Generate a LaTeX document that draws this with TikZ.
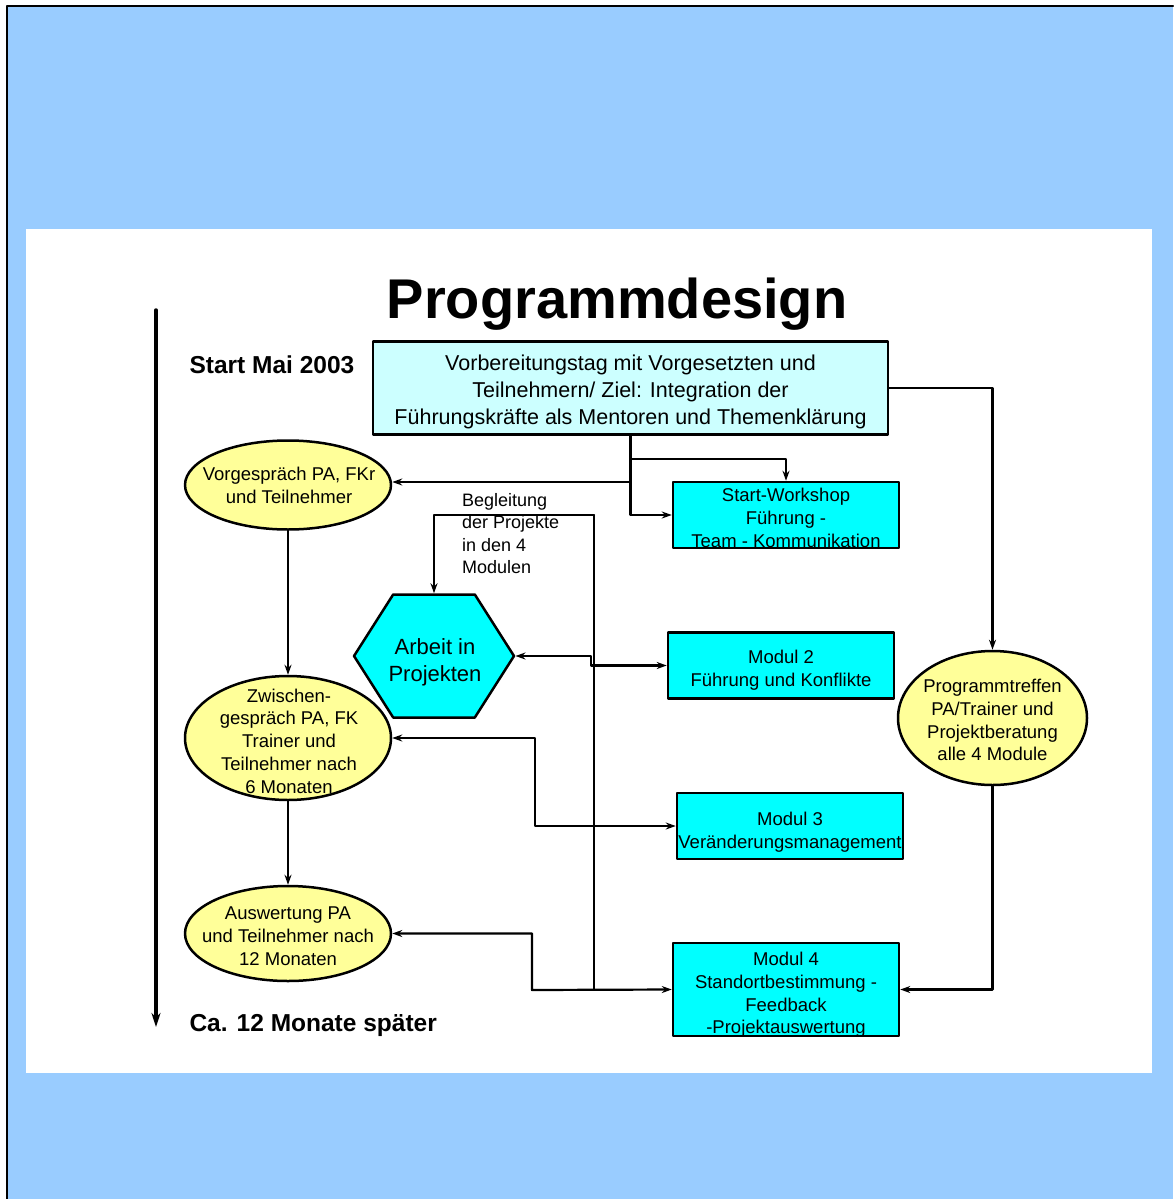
\documentclass[tikz,border=0pt]{standalone}
\usepackage{fontspec}
\setmainfont{Liberation Sans}
\usetikzlibrary{shapes.geometric,shapes.symbols,arrows.meta}
\definecolor{hgblau}{HTML}{99CCFF}
\definecolor{hellcyan}{HTML}{CCFFFF}
\definecolor{modulcyan}{HTML}{00FFFF}
\definecolor{hellgelb}{HTML}{FFFF99}
\tikzset{
  modul/.style={draw,line width=2.5,fill=modulcyan,inner sep=0,
    minimum width=226,minimum height=66},
  gespraech/.style={draw,ellipse,line width=2.5,fill=hellgelb,inner sep=0},
  gtext/.style={align=center,inner sep=0,font=\fontsize{18.5}{22.8}\selectfont},
  pfeil/.style={line width=2.2},
}
\begin{document}
\begin{tikzpicture}[x=1pt,y=-1pt,line cap=round,line join=round,>={Stealth[length=10pt,width=7pt]}]
\useasboundingbox (0,0) rectangle (1173,1199);
% Hintergrund
\fill[hgblau] (7,6) rectangle (1173,1199);
\draw[line width=2.5] (7,1199)--(7,6)--(1173,6);
\fill[white] (26,229) rectangle (1152,1073);

\node[font=\fontsize{56}{60}\selectfont\bfseries] (titel) at (617,304) {Programmdesign};

% Zeitachse
\coordinate (t0) at (156,310);
\coordinate (t1) at (156,1027);
\draw[-{Stealth[length=14pt,width=9pt]},line width=3.5] (t0)--(t1);
\node[anchor=west,font=\fontsize{24.5}{28}\selectfont\bfseries] (start) at (186,365) {Start Mai 2003};
\node[anchor=west,font=\fontsize{24.5}{28}\selectfont\bfseries] (ende) at (186,1025) {Ca. 12 Monate später};

% Kaesten
\node[draw,line width=2.5,fill=hellcyan,minimum width=515,minimum height=93,inner sep=0] (vb) at (630.5,388) {};
\node[align=center,inner sep=0,font=\fontsize{21.5}{27}\selectfont] at (630.5,392)
  {Vorbereitungstag mit Vorgesetzten und\\Teilnehmern/ Ziel: Integration der\\Führungskräfte als Mentoren und Themenklärung};
\node[modul] (sw) at (786,515) {};
\node[gtext] at (786,518) {Start-Workshop\\Führung -\\Team - Kommunikation};
\node[modul] (m2) at (781,665.5) {};
\node[gtext] at (781,670) {Modul 2\\Führung und Konflikte};
\node[modul] (m3) at (790,826) {};
\node[gtext] at (790,832) {Modul 3\\Veränderungsmanagement};
\node[modul,minimum height=93] (m4) at (786,989.5) {};
\node[gtext] at (786,995) {Modul 4\\Standortbestimmung -\\Feedback\\-Projektauswertung};

\node[draw,line width=2.5,fill=modulcyan,shape=signal,signal to=west and east,
  signal pointer angle=115,minimum width=160,minimum height=123,inner sep=0] (proj) at (434,656) {};
\node[align=center,inner sep=0,font=\fontsize{22}{27}\selectfont] at (435,662) {Arbeit in\\Projekten};

% Gespraeche
\node[gespraech,minimum width=206,minimum height=89] (vorg) at (288,485) {};
\node[gtext] at (289,485) {Vorgespräch PA, FKr\\und Teilnehmer};
\node[gespraech,minimum width=206,minimum height=124] (zw) at (288,738) {};
\node[gtext] at (289,741) {Zwischen-\\gespräch PA, FK\\Trainer und\\Teilnehmer nach\\6 Monaten};
\node[gespraech,minimum width=206,minimum height=95] (aus) at (288,933.5) {};
\node[gtext] at (288,936) {Auswertung PA\\und Teilnehmer nach\\12 Monaten};
\node[gespraech,minimum width=189,minimum height=134] (pt) at (992.5,718) {};
\node[gtext] at (992.5,720) {Programmtreffen\\PA/Trainer und\\Projektberatung\\alle 4 Module};

\node[anchor=north west,align=left,inner sep=0,font=\fontsize{18}{22.5}\selectfont] (begl) at (462,493)
  {Begleitung\\der Projekte\\in den 4\\Modulen};

% Verbindungen
\coordinate (bg) at (594,515);
\coordinate (j2) at (591,660);
\coordinate (j3) at (535,826);
\coordinate (j4) at (532,990);
\draw[pfeil,->] (vb.south) |- (sw.west);
\draw[pfeil,->] (vb.south |- 0,482) -- (vorg.east |- 0,482);
\draw[pfeil,->] (vb.south) ++(0,23) -| (sw.north);
\draw[pfeil,->] (vb.east) -| (pt.north);
\draw[pfeil,->] (pt.south) |- (m4.east);
\draw[pfeil,->] (vorg.south) -- (zw.north);
\draw[pfeil,->] (zw.south) -- (aus.north);
\draw[line width=1.3] (bg) -- (bg |- m4.west);
\draw[pfeil,->] (bg) -| (proj.north);
\draw[pfeil,<->] (proj.east) -| (j2) |- (m2.west);
\draw[pfeil,<->] (zw.east) -| (j3) -- (m3.west);
\draw[pfeil,<->] (aus.east) -| (j4) -- (m4.west);
\end{tikzpicture}
\end{document}
